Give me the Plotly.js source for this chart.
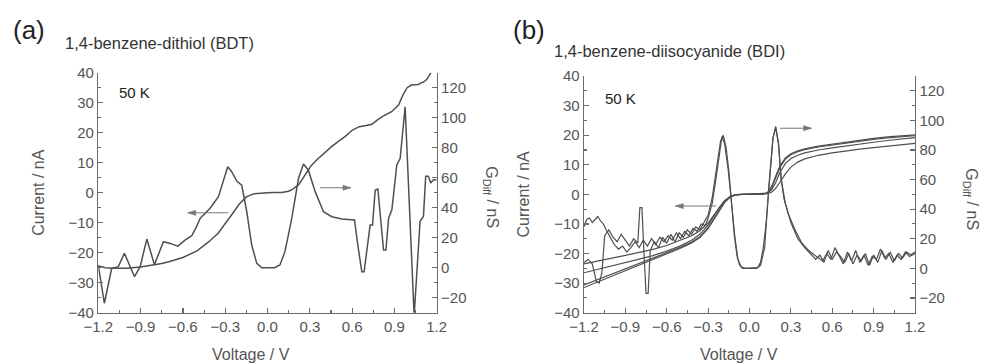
<!DOCTYPE html>
<html>
<head>
<meta charset="utf-8">
<script src="https://cdn.plot.ly/plotly-3.0.1.min.js"></script>
<style>html,body{margin:0;padding:0;background:#fff;}#chart{width:984px;height:363px;}</style>
</head>
<body>
<div id="chart"></div>
<script>
// ---------- Panel (a): 1,4-benzene-dithiol (BDT) ----------
const voltA_I = [-1.2, -1.15, -1.1, -1.0, -0.9, -0.8, -0.75, -0.7, -0.6, -0.5, -0.42, -0.35, -0.3, -0.25, -0.2, -0.15, -0.1, -0.05, 0, 0.05, 0.1, 0.15, 0.18, 0.22, 0.27, 0.31, 0.35, 0.39, 0.45, 0.5, 0.55, 0.6, 0.65, 0.7, 0.74, 0.78, 0.82, 0.88, 0.93, 0.96, 0.99, 1.02, 1.05, 1.07, 1.09, 1.11, 1.13, 1.16];
const currentA = [-24.4, -25, -25.2, -25.2, -24.8, -24.1, -23.6, -23, -21.6, -19.4, -16.5, -13.5, -10.5, -7.1, -3.8, -1.4, -0.4, -0.1, 0, 0.05, 0.1, 0.5, 1.2, 2.6, 6.1, 9, 11, 12.8, 15.2, 17, 18.7, 20.8, 22, 22.4, 22.8, 24.3, 25.5, 27, 29.2, 32.5, 35, 35.9, 36, 36.1, 36.6, 37, 37.8, 40];

const voltA_G = [-1.2, -1.157, -1.105, -1.058, -1.015, -0.943, -0.903, -0.856, -0.802, -0.738, -0.69, -0.636, -0.585, -0.537, -0.505, -0.478, -0.407, -0.348, -0.282, -0.254, -0.218, -0.183, -0.147, -0.112, -0.076, -0.04, 0.05, 0.088, 0.124, 0.172, 0.22, 0.255, 0.29, 0.338, 0.397, 0.456, 0.527, 0.617, 0.642, 0.669, 0.685, 0.71, 0.728, 0.745, 0.764, 0.783, 0.823, 0.84, 0.859, 0.882, 0.917, 0.941, 0.976, 1.04, 1.082, 1.106, 1.122, 1.141, 1.158, 1.177, 1.2];
const condA = [1.8, -23.7, -0.4, 0.7, 9.6, -6, 0.7, 19.1, 2.1, 17.3, 16.2, 14.4, 18.4, 21.3, 27, 32.9, 39.6, 47.4, 67.3, 64, 57.8, 55.1, 37.3, 15.1, 2.9, 0, 0, 1.8, 10.7, 32.9, 59.6, 69.1, 65, 50.7, 37.3, 34, 32.5, 31.8, 14, -2.7, -2.7, 15, 28.4, 28.4, 51.8, 52.5, 11.8, 11.8, 33, 38.6, 68.5, 72.9, 107.3, -32, 30.9, 34.2, 60.9, 60.9, 56.5, 58.7, 58.7];

// ---------- Panel (b): 1,4-benzene-diisocyanide (BDI) ----------
const voltB_I = [-1.2, -1.1, -1.0, -0.9, -0.8, -0.7, -0.6, -0.5, -0.42, -0.36, -0.3, -0.26, -0.22, -0.18, -0.14, -0.1, -0.05, 0, 0.05, 0.1, 0.13, 0.16, 0.19, 0.22, 0.26, 0.3, 0.35, 0.4, 0.5, 0.6, 0.7, 0.8, 0.9, 1.0, 1.1, 1.2];
const currentB1 = [-31.5, -29.6, -27.7, -25.8, -23.9, -22.0, -20.1, -18.2, -16.4, -14.6, -11.6, -8.6, -5.5, -2.7, -0.9, -0.2, 0, 0, 0, 0.1, 0.6, 2.6, 6.2, 9.6, 12.3, 13.7, 14.7, 15.4, 16.3, 17.0, 17.7, 18.3, 18.9, 19.4, 19.8, 20.1];
const currentB2 = [-30.6, -28.8, -27.0, -25.2, -23.4, -21.6, -19.8, -17.9, -16.1, -14.3, -11.3, -8.3, -5.2, -2.5, -0.8, -0.2, 0, 0, 0, 0.1, 0.5, 2.2, 5.6, 9.0, 11.9, 13.4, 14.4, 15.1, 16.0, 16.7, 17.4, 18.0, 18.6, 19.1, 19.5, 19.8];
const currentB3 = [-26.5, -25.4, -24.2, -23.1, -21.9, -20.7, -19.2, -17.4, -15.5, -13.5, -10.4, -7.5, -4.5, -2.1, -0.7, -0.1, 0, 0, 0, 0.1, 0.4, 1.5, 4.0, 7.4, 10.4, 12.1, 13.2, 14.0, 15.0, 15.7, 16.4, 17.0, 17.6, 18.2, 18.7, 19.2];
const currentB4 = [-23.5, -22.6, -21.7, -20.6, -19.6, -18.6, -17.3, -15.6, -14.0, -12.3, -9.7, -7.1, -4.5, -2.1, -0.7, -0.1, 0, 0, 0, 0.05, 0.2, 0.7, 2.0, 4.0, 6.9, 9.2, 10.9, 12.0, 13.2, 14.0, 14.7, 15.3, 15.8, 16.3, 16.8, 17.2];

const voltB_GA = [-1.2, -1.18, -1.16, -1.14, -1.12, -1.1, -1.08, -1.06, -1.04, -1.01, -0.98, -0.95, -0.92, -0.89, -0.86, -0.83, -0.8, -0.77, -0.74, -0.71, -0.68, -0.65, -0.62, -0.59, -0.56, -0.53, -0.5, -0.47, -0.44, -0.41, -0.38, -0.35, -0.32, -0.3, -0.27, -0.244, -0.22, -0.2, -0.18, -0.155, -0.13, -0.107, -0.084, -0.06, -0.03, 0, 0.03, 0.06, 0.08, 0.1, 0.12, 0.15, 0.17, 0.19, 0.21, 0.23, 0.25, 0.28, 0.33, 0.38, 0.43, 0.47, 0.5, 0.53, 0.56, 0.59, 0.62, 0.65, 0.68, 0.71, 0.74, 0.77, 0.8, 0.83, 0.86, 0.89, 0.92, 0.95, 0.98, 1.01, 1.04, 1.07, 1.1, 1.13, 1.16, 1.2];
const condBA = [28, 33, 34, 31, 33, 35, 32, 30, 26, 21, 16, 13, 15, 11, 14, 18, 14, 19, 15, 20, 16, 21, 18, 22, 19, 24, 20, 25, 22, 27, 25, 30, 29, 34, 44, 60, 76, 89, 84, 67, 44, 22, 6, 1, 0, 0, 0, 0.5, 4, 14, 30, 68, 88, 96, 84, 60, 47, 37, 26, 17, 12, 9, 7, 5, 10, 6, 14, 8, 3, 11, 5, 12, 4, 9, 2, 8, 6, 13, 7, 10, 4, 9, 6, 11, 8, 10];

const voltB_GB = [-1.2, -1.17, -1.14, -1.11, -1.09, -1.07, -1.05, -1.02, -0.99, -0.96, -0.93, -0.9, -0.87, -0.84, -0.81, -0.795, -0.78, -0.765, -0.75, -0.735, -0.72, -0.69, -0.66, -0.63, -0.6, -0.57, -0.54, -0.51, -0.48, -0.45, -0.42, -0.39, -0.36, -0.33, -0.3, -0.27, -0.24, -0.21, -0.19, -0.17, -0.15, -0.13, -0.11, -0.09, -0.07, -0.05, 0, 0.05, 0.08, 0.11, 0.14, 0.17, 0.19, 0.21, 0.23, 0.26, 0.3, 0.35, 0.4, 0.45, 0.48, 0.51, 0.54, 0.57, 0.6, 0.63, 0.66, 0.69, 0.72, 0.75, 0.78, 0.81, 0.84, 0.87, 0.9, 0.93, 0.96, 0.99, 1.02, 1.05, 1.08, 1.11, 1.14, 1.17, 1.2];
const condBB = [4, 6, 3, -9, -10, -3, 22, 26, 21, 18, 23, 19, 15, 20, 17, 41, 41, 10, -17, -17, 12, 18, 14, 21, 17, 23, 18, 24, 21, 26, 23, 28, 26, 31, 36, 48, 68, 86, 90, 82, 66, 44, 22, 8, 2, 0, 0, 0, 2, 14, 55, 88, 95, 85, 60, 44, 31, 20, 14, 9, 6, 9, 4, 12, 6, 11, 8, 4, 10, 3, 9, 5, 10, 2, 9, 4, 12, 6, 11, 5, 10, 7, 11, 9, 11];

// ---------- Text ----------
const panelLabels = ['(a)', '(b)'];
const panelTitles = ['1,4-benzene-dithiol (BDT)', '1,4-benzene-diisocyanide (BDI)'];
const tempLabel = '50 K';
const xTitle = 'Voltage / V';
const yLeftTitle = 'Current / nA';
const yRightParts = ['G', 'Diff', '/ nS'];   // G with subscript "Diff", then " / nS"

// ---------- Styling ----------
const FONT = 'Liberation Sans, Arial, Helvetica, sans-serif';
const LINE = '#4f4f4f';
const AX = '#6a6a6a';
const ARROW = '#777777';
const W = 984, H = 363;
const px = v => v / W;
const py = v => 1 - v / H;

function line(x, y, xa, ya, w) {
  return {type: 'scatter', mode: 'lines', x: x, y: y, xaxis: xa, yaxis: ya,
          line: {color: LINE, width: w || 1.5}, hoverinfo: 'skip'};
}

const traces = [
  line(voltA_I, currentA, 'x', 'y'),
  line(voltA_G, condA, 'x', 'y2'),
  line(voltB_I, currentB1, 'x2', 'y3', 1.2),
  line(voltB_I, currentB2, 'x2', 'y3', 1.2),
  line(voltB_I, currentB3, 'x2', 'y3', 1.2),
  line(voltB_I, currentB4, 'x2', 'y3', 1.2),
  line(voltB_GA, condBA, 'x2', 'y4', 1.2),
  line(voltB_GB, condBB, 'x2', 'y4', 1.2)
];

const tickfont = {family: FONT, size: 15, color: '#555'};
const titleFont = {family: FONT, size: 16, color: '#555'};
const xCommon = {
  range: [-1.2, 1.2], tick0: -1.2, dtick: 0.3, tickformat: '.1f',
  ticks: 'inside', ticklen: 5, tickwidth: 1.2, tickcolor: AX,
  showline: true, linecolor: AX, linewidth: 1.4,
  showgrid: false, zeroline: false, tickfont: tickfont, fixedrange: true,
  minor: {tick0: -1.2, dtick: 0.15, ticks: 'inside', ticklen: 3, tickwidth: 1.1, tickcolor: AX, showgrid: false}
};
const yLeft = {
  range: [-40, 40], tick0: 0, dtick: 10,
  ticks: 'inside', ticklen: 5, tickwidth: 1.2, tickcolor: AX,
  showline: true, linecolor: AX, linewidth: 1.4,
  showgrid: false, zeroline: false, tickfont: tickfont, fixedrange: true,
  title: {text: yLeftTitle, font: titleFont, standoff: 20},
  minor: {tick0: 0, dtick: 5, ticks: 'inside', ticklen: 3, tickwidth: 1.1, tickcolor: AX, showgrid: false}
};
const yRight = {
  range: [-30, 130], tick0: 0, dtick: 20, side: 'right',
  ticks: 'inside', ticklen: 5, tickwidth: 1.2, tickcolor: AX,
  showline: true, linecolor: AX, linewidth: 1.4,
  showgrid: false, zeroline: false, tickfont: tickfont, fixedrange: true,
  minor: {tick0: 0, dtick: 10, ticks: 'inside', ticklen: 3, tickwidth: 1.1, tickcolor: AX, showgrid: false}
};

function txt(text, x, y, size, color, opts) {
  return Object.assign({text: text, x: x, y: y, xref: 'paper', yref: 'paper', showarrow: false,
    xanchor: 'center', yanchor: 'middle', font: {family: FONT, size: size, color: color}}, opts || {});
}
// Right-axis title, rotated to read top-to-bottom, built from three pieces
function gTitle(cx, cy) {
  const top = cy - 31;
  return [
    txt(yRightParts[0], px(cx), py(top + 6.2), 16, '#555', {textangle: 90}),
    txt(yRightParts[1], px(cx - 5), py(top + 20.7), 11, '#555', {textangle: 90}),
    txt(yRightParts[2], px(cx), py(top + 47.6), 16, '#555', {textangle: 90})
  ];
}
// Arrow = a shaft line plus a small filled head (pixel-sized, anchored at the tip)
function arrowShapes(xref, yref, xTip, yVal, xTail) {
  const dir = xTip < xTail ? 1 : -1;
  return [
    {type: 'line', xref: xref, yref: yref, x0: xTail, x1: xTip, y0: yVal, y1: yVal,
     line: {color: ARROW, width: 1}},
    {type: 'path', xref: xref, yref: yref, xsizemode: 'pixel', ysizemode: 'pixel',
     xanchor: xTip, yanchor: yVal,
     path: 'M 0 0 L ' + (8 * dir) + ' 2.6 L ' + (8 * dir) + ' -2.6 Z',
     fillcolor: ARROW, line: {color: ARROW, width: 0.5}}
  ];
}

const annotations = [
  txt(panelLabels[0], px(29), py(30), 26, '#222'),
  txt(panelLabels[1], px(528.5), py(30), 26, '#222'),
  txt(panelTitles[0], px(63), py(43), 16.5, '#333', {xanchor: 'left'}),
  txt(panelTitles[1], px(551.7), py(51), 16.5, '#333', {xanchor: 'left'}),
  txt(tempLabel, px(116.7), py(92.5), 15, '#222', {xanchor: 'left'}),
  txt(tempLabel, px(603), py(98.3), 15, '#222', {xanchor: 'left'}),
  txt(xTitle, px(251), py(354), 16, '#555'),
  txt(xTitle, px(739), py(354), 16, '#555')
].concat(gTitle(492, 197), gTitle(972, 199));

const shapes = [].concat(
  arrowShapes('x', 'y', -0.566, -6.7, -0.278),
  arrowShapes('x', 'y2', 0.592, 53.3, 0.372),
  arrowShapes('x2', 'y3', -0.538, -3.95, -0.241),
  arrowShapes('x2', 'y4', 0.45, 94.7, 0.22)
);

const layout = {
  width: W, height: H,
  margin: {l: 0, r: 0, t: 0, b: 0, pad: 0},
  paper_bgcolor: '#ffffff', plot_bgcolor: '#ffffff',
  showlegend: false,
  font: {family: FONT, size: 15, color: '#555'},
  xaxis: Object.assign({}, xCommon, {domain: [px(98.3), px(436.7)], anchor: 'y'}),
  yaxis: Object.assign({}, yLeft, {domain: [1 - 312.7 / H, 1 - 72.7 / H], anchor: 'x'}),
  yaxis2: Object.assign({}, yRight, {overlaying: 'y', anchor: 'x'}),
  xaxis2: Object.assign({}, xCommon, {domain: [px(584), px(915)], anchor: 'y3'}),
  yaxis3: Object.assign({}, yLeft, {domain: [1 - 312.7 / H, 1 - 76 / H], anchor: 'x2'}),
  yaxis4: Object.assign({}, yRight, {overlaying: 'y3', anchor: 'x2'}),
  annotations: annotations,
  shapes: shapes
};

Plotly.newPlot('chart', traces, layout, {staticPlot: true, displayModeBar: false});
</script>
</body>
</html>
